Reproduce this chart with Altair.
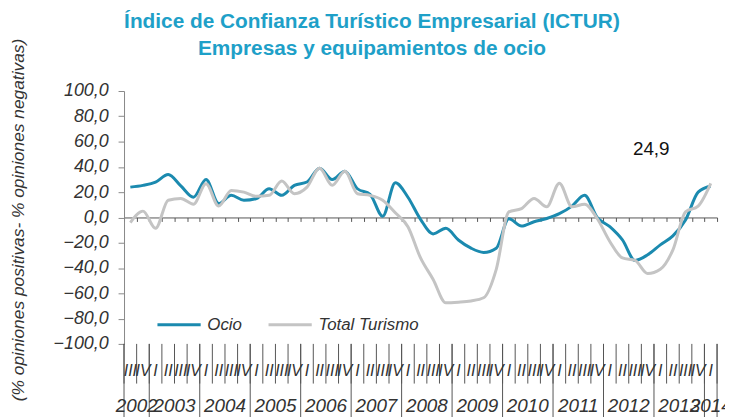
import altair as alt
import pandas as pd

# Quarter categories: 2002-III .. 2014-I
quarters = ["III", "IV"] + ["I", "II", "III", "IV"] * 11 + ["I"]
years = ["2002"] * 2 + [str(y) for y in range(2003, 2014) for _ in range(4)] + ["2014"]

ocio = [24.0, 25.4, 28.0, 34.0, 25.0, 16.0, 30.0, 11.0, 17.5, 13.6, 15.0, 22.7,
        17.5, 25.4, 28.0, 39.0, 30.0, 36.6, 22.7, 18.3, 1.0, 27.5, 16.0, -1.5,
        -13.0, -8.6, -17.8, -24.3, -27.7, -24.3, -1.0, -6.8, -3.4, -0.8, 3.0, 9.0,
        17.5, 0.0, -7.3, -17.8, -34.0, -29.5, -21.7, -14.6, -2.0, 20.0, 24.9]

total = [-4.0, 5.0, -8.6, 13.6, 15.0, 10.5, 26.7, 9.0, 21.4, 20.0, 16.7, 17.5,
         28.8, 18.8, 24.0, 39.0, 25.4, 36.6, 18.8, 17.5, 13.6, 3.7, -7.3, -32.0,
         -49.0, -67.5, -67.0, -66.0, -63.5, -41.0, 4.4, 7.0, 15.0, 8.4, 27.0, 8.4,
         10.5, -0.8, -19.0, -32.0, -34.0, -44.4, -41.0, -25.6, 4.4, 9.0, 27.0]

series_names = ["Ocio", "Total Turismo"]
series_colors = ["#1B8AAF", "#C4C4C4"]
y_title = "(% opiniones positivas- % opiniones negativas)"
title_lines = ["Índice de Confianza Turístico Empresarial (ICTUR)",
               "Empresas y equipamientos de ocio"]

n = len(quarters)
FONT = "Liberation Sans"

rows = []
for i in range(n):
    rows.append({"pos": i + 0.5, "serie": "Ocio", "valor": ocio[i]})
    rows.append({"pos": i + 0.5, "serie": "Total Turismo", "valor": total[i]})
df = pd.DataFrame(rows)

qdf = pd.DataFrame({"pos": [i + 0.5 for i in range(n)], "q": quarters})
bounds = pd.DataFrame({"pos": list(range(n + 1))})

ystart = []
yrs = []
for i, y in enumerate(years):
    if i == 0 or years[i - 1] != y:
        ystart.append(i)
        yrs.append(y)
yend = ystart[1:] + [n]
ydf = pd.DataFrame({"year": yrs, "start": ystart, "end": yend})
ydf["pos"] = (ydf["start"] + ydf["end"]) / 2
ysep = pd.DataFrame({"pos": ystart + [n]})

xscale = alt.Scale(domain=[0, n], nice=False, zero=False)
yscale = alt.Scale(domain=[-100, 100], nice=False)

xaxis = alt.Axis(values=list(range(n + 1)), labels=False, title=None,
                 tickSize=4, offset=-127.5, domainColor="#555555",
                 tickColor="#555555", grid=False)
yaxis = alt.Axis(values=list(range(-100, 101, 20)),
                 labelExpr="replace(format(datum.value, '.1f'), '.', ',')",
                 labelFont=FONT, labelFontSize=18, labelFontStyle="italic",
                 labelColor="#333333", labelPadding=10, tickSize=6,
                 domainColor="#888888", tickColor="#888888", grid=False,
                 title=None)

X = alt.X("pos:Q", scale=xscale, axis=xaxis)
Y = alt.Y("valor:Q", scale=yscale, axis=yaxis)

lines = alt.Chart(df).mark_line(interpolate="monotone", strokeWidth=3).encode(
    x=X,
    y=Y,
    color=alt.Color("serie:N",
                    scale=alt.Scale(domain=series_names, range=series_colors),
                    sort=series_names,
                    legend=alt.Legend(orient="none", legendX=32, legendY=212,
                                      direction="horizontal", title=None,
                                      symbolType="stroke", symbolSize=1900,
                                      symbolStrokeWidth=3, labelFont=FONT,
                                      labelFontSize=17, labelFontStyle="italic",
                                      labelColor="#333333", columnPadding=20,
                                      labelOffset=5)),
    order=alt.Order("pos:Q"),
)

last = pd.DataFrame({"pos": [n - 0.5], "valor": [ocio[-1]],
                     "txt": [str(ocio[-1]).replace(".", ",")]})
annot = alt.Chart(last).mark_text(font=FONT, fontSize=19, color="#111111",
                                  dx=-60, dy=-37, align="center",
                                  baseline="middle").encode(
    x=X, y=Y, text="txt:N",
)

ytitle = alt.Chart(pd.DataFrame({"t": [y_title]})).mark_text(
    font=FONT, fontSize=17.5, fontStyle="italic", color="#333333",
    angle=270, align="center", baseline="middle",
).encode(x=alt.value(-106), y=alt.value(130), text="t:N")

title1 = alt.Chart(pd.DataFrame({"t": [title_lines[0]]})).mark_text(
    font=FONT, fontSize=21, fontWeight="bold", color="#1EA0C8",
    align="center", baseline="middle",
).encode(x=alt.value(250), y=alt.value(-70), text="t:N")
title2 = alt.Chart(pd.DataFrame({"t": [title_lines[1]]})).mark_text(
    font=FONT, fontSize=21, fontWeight="bold", color="#1EA0C8",
    align="center", baseline="middle",
).encode(x=alt.value(250), y=alt.value(-42), text="t:N")

qlines = alt.Chart(bounds).mark_rule(color="#555555", strokeWidth=1).encode(
    x=X, y=alt.value(255), y2=alt.value(295),
)
ylines = alt.Chart(ysep).mark_rule(color="#555555", strokeWidth=1).encode(
    x=X, y=alt.value(255), y2=alt.value(330),
)
qlabels = alt.Chart(qdf).mark_text(font=FONT, fontSize=16, fontStyle="italic",
                                   color="#333333", baseline="middle").encode(
    x=X, y=alt.value(282), text="q:N",
)
ylabels = alt.Chart(ydf).mark_text(font=FONT, fontSize=19, fontStyle="italic",
                                   color="#333333", baseline="middle").encode(
    x=X, y=alt.value(318), text="year:N",
)

chart = alt.layer(lines, annot, ytitle, title1, title2,
                  qlines, ylines, qlabels, ylabels).properties(
    width=598, height=255,
    autosize=alt.AutoSizeParams(type="none"),
    padding={"left": 117, "top": 82, "right": 8, "bottom": 72},
).configure_view(stroke=None)

chart.save("out.html", embed_options={"renderer": "svg", "actions": False})
